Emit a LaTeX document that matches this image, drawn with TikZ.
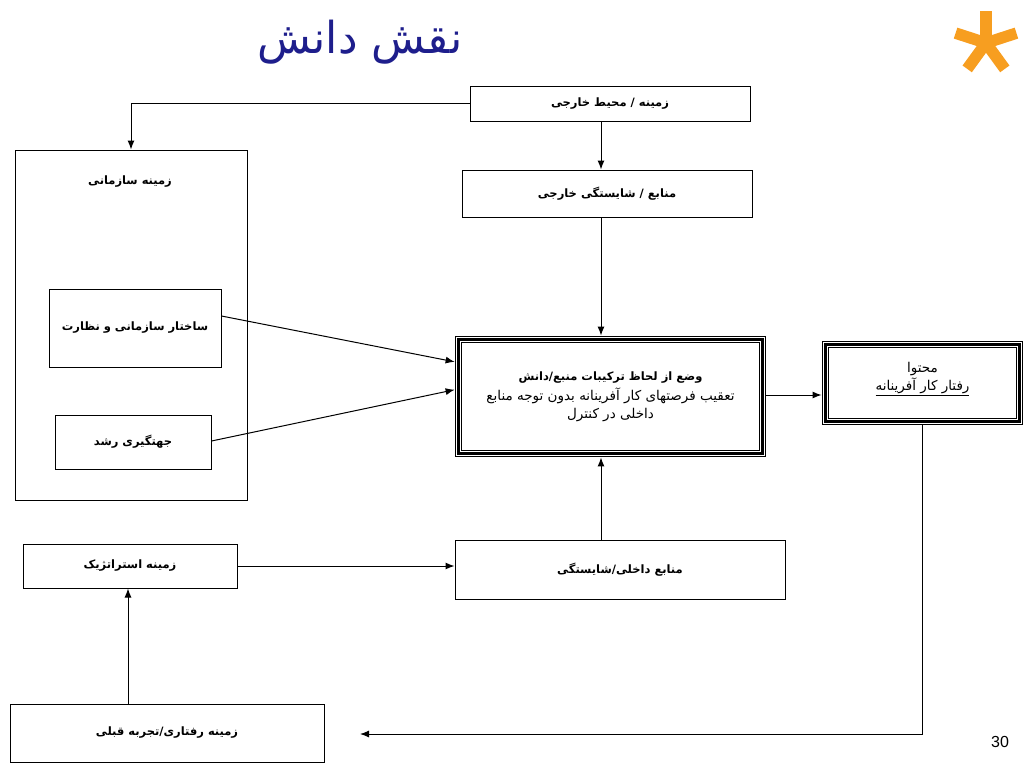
\documentclass[tikz,border=0pt]{standalone}
\usepackage{fontspec}
\setmainfont{Liberation Sans}
\newfontfamily\fa[Script=Arabic]{DejaVu Sans}
\TeXXeTstate=1
\usetikzlibrary{arrows.meta}
\definecolor{titleblue}{RGB}{30,30,140}
\definecolor{starorange}{RGB}{247,158,32}
\tikzset{
  box/.style={draw, line width=1pt, rectangle, inner sep=2pt, align=center,
    font=\fa\bfseries\fontsize{11.5}{14}\selectfont},
  frame box/.style={draw, line width=0.9pt, double, double distance=5pt,
    postaction={draw, line width=2.2pt}, rectangle, align=center,
    font=\fa\fontsize{13.5}{19}\selectfont},
  link/.style={->, line width=1pt},
}
\begin{document}
\begin{tikzpicture}[x=1pt, y=-1pt, >={Latex[length=9pt,width=7pt]}]
\useasboundingbox (0,0) rectangle (1024,768);

% title and star
\node [text=titleblue, font=\fa\fontsize{44}{46}\selectfont] (title) at (360,42) {\beginR نقش دانش\endR};
\foreach \a in {90,18,162,234,306}
  \draw [starorange, line width=11.5pt] (986,43) -- ++(-\a:32);

% outer context
\node [box, minimum width=280, minimum height=35] (extenv) at (610,103.5) {\beginR زمینه / محیط خارجی\endR};
\node [box, minimum width=290, minimum height=47] (extres) at (607,193.5) {\beginR منابع / شایستگی خارجی\endR};

% organisation
\node [box, minimum width=232, minimum height=350] (org) at (131,325) {};
\node [font=\fa\bfseries\fontsize{11.5}{14}\selectfont] (orgtitle) at (130,182) {\beginR زمینه سازمانی\endR};
\node [box, minimum width=172, minimum height=78] (orgstr) at (135,328) {\beginR ساختار سازمانی و نظارت\endR};
\node [box, minimum width=156, minimum height=54] (growth) at (133,442) {\beginR جهتگیری رشد\endR};

% situation and content
\node [frame box, minimum width=304, minimum height=114] (sit) at (610.5,396.5)
  {{\bfseries\fontsize{11.5}{14}\selectfont\beginR وضع از لحاظ ترکیبات منبع/دانش\endR}\\[1pt]
   \beginR تعقیب فرصتهای کار آفرینانه بدون توجه منابع\endR\\[-1pt]
   \beginR داخلی در کنترل\endR};
\node [frame box, minimum width=194, minimum height=77] (content) at (922.5,383)
  {\beginR محتوا\endR\\[-1pt] \underline{\beginR رفتار کار آفرینانه\endR}\\[-6pt]\mbox{}};

% lower row
\node [box, minimum width=214, minimum height=44] (strat) at (130,566) {\beginR زمینه استراتژیک\endR};
\node [box, minimum width=330, minimum height=59] (intres) at (620,569.5) {\beginR منابع داخلی/شایستگی\endR};
\node [box, minimum width=314, minimum height=58] (prior) at (167,733) {\beginR زمینه رفتاری/تجربه قبلی\endR};

\node [font=\fontsize{16}{18}\selectfont] (page) at (1000,742) {30};

\coordinate (vline) at (601,0);
\coordinate (back) at (360,734);

% connectors
\draw [link] (extenv.west) -| (org.north);
\draw [link] (extenv.south -| vline) -- (extres.north -| vline);
\draw [link, shorten >=3.5pt] (extres.south -| vline) -- (sit.north -| vline);
\draw [link, shorten >=3.5pt] ([yshift=12pt]orgstr.east) -- ([yshift=34pt]sit.west);
\draw [link, shorten >=3.5pt] ([yshift=1pt]growth.east) -- ([yshift=7.5pt]sit.west);
\draw [link, shorten <=3.5pt, shorten >=3.5pt] ([yshift=1.5pt]sit.east) -- ([yshift=1.5pt]sit.east -| content.west);
\draw [link, shorten <=3.5pt] (content.south) |- (back);
\draw [link] (strat.east) -- (strat.east -| intres.west);
\draw [link, shorten >=3.5pt] (intres.north -| vline) -- (sit.south -| vline);
\draw [link] (prior.north -| 128,0) -- (strat.south -| 128,0);
\end{tikzpicture}
\end{document}
